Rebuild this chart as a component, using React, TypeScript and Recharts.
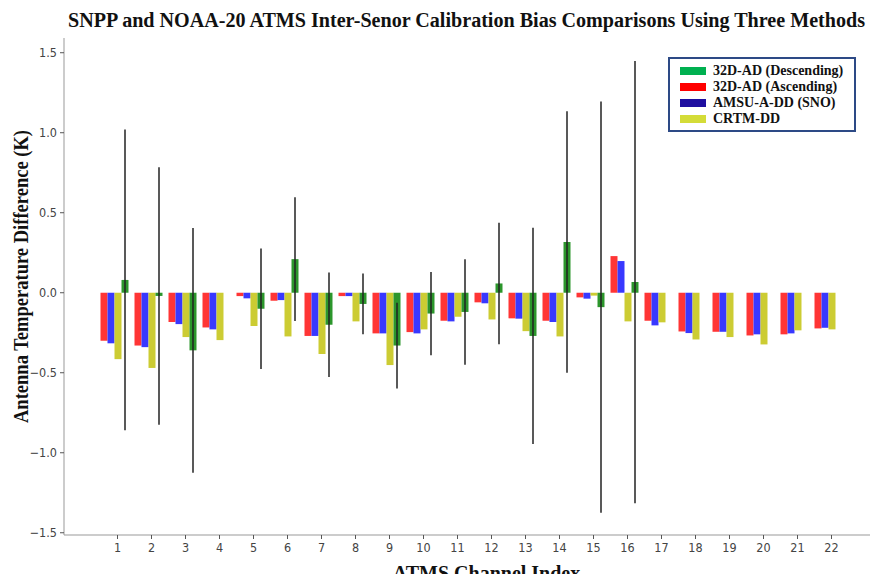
import React from 'react';
import { BarChart, Bar, XAxis, YAxis, ErrorBar, Legend, Customized } from 'recharts';

const channels = [1, 2, 3, 4, 5, 6, 7, 8, 9, 10, 11, 12, 13, 14, 15, 16, 17, 18, 19, 20, 21, 22];
const ascending = [-0.30, -0.33, -0.183, -0.217, -0.021, -0.05, -0.27, -0.021, -0.254, -0.246, -0.175, -0.06, -0.16, -0.175, -0.029, 0.229, -0.175, -0.242, -0.244, -0.267, -0.26, -0.223];
const amsuSno = [-0.316, -0.34, -0.196, -0.229, -0.035, -0.046, -0.27, -0.021, -0.254, -0.254, -0.179, -0.066, -0.162, -0.183, -0.037, 0.198, -0.204, -0.252, -0.244, -0.26, -0.254, -0.219];
const crtmDD = [-0.415, -0.47, -0.277, -0.296, -0.208, -0.273, -0.383, -0.179, -0.452, -0.229, -0.15, -0.167, -0.24, -0.273, -0.018, -0.179, -0.185, -0.292, -0.277, -0.323, -0.235, -0.229];
const descending = [0.08, -0.02, -0.36, null, -0.10, 0.21, -0.20, -0.07, -0.33, -0.13, -0.12, 0.058, -0.27, 0.317, -0.09, 0.067, null, null, null, null, null, null];
const descendingErr = [0.94, 0.805, 0.765, null, 0.377, 0.387, 0.327, 0.19, 0.268, 0.26, 0.33, 0.38, 0.676, 0.817, 1.285, 1.382, null, null, null, null, null, null];
const yTicks = [-1.5, -1.0, -0.5, 0.0, 0.5, 1.0, 1.5];

const legendItems = [
  { label: '32D-AD (Descending)', color: '#00b050' },
  { label: '32D-AD (Ascending)', color: '#ff0000' },
  { label: 'AMSU-A-DD (SNO)', color: '#1f0fa0' },
  { label: 'CRTM-DD', color: '#d4dc38' },
];

const data = channels.map((ch, i) => ({
  ch,
  asc: ascending[i],
  sno: amsuSno[i],
  crtm: crtmDD[i],
  desc: descending[i],
  descErr: descendingErr[i],
}));

const TICK_FONT = '"DejaVu Sans Condensed", "DejaVu Sans", sans-serif';
const SERIF = '"Liberation Serif", "Times New Roman", serif';
const BAND = 34;
const SHIFT = BAND * 0.1;

const fmt = (v: number) => (v < 0 ? '\u2212' + Math.abs(v).toFixed(1) : v.toFixed(1));

const XTick = (props: any) => {
  const { x, y, payload } = props;
  const cx = x + SHIFT;
  return (
    <g>
      <line x1={cx} x2={cx} y1={y} y2={y + 4} stroke="#555" strokeWidth={1} />
      <text x={cx} y={y + 17} textAnchor="middle" fontSize={12.5} fill="#444" fontFamily={TICK_FONT}>
        {payload.value}
      </text>
    </g>
  );
};

const LegendBox = () => (
  <div
    style={{
      width: 188,
      height: 75,
      boxSizing: 'border-box',
      border: '2px solid #2d4a86',
      background: '#fff',
      paddingTop: 4,
      fontFamily: SERIF,
      fontWeight: 'bold',
      fontSize: 14,
      color: '#111',
    }}
  >
    {legendItems.map((it) => (
      <div key={it.label} style={{ display: 'flex', alignItems: 'center', height: 16 }}>
        <div style={{ marginLeft: 10, width: 26, height: 8, background: it.color }} />
        <span style={{ marginLeft: 7, lineHeight: '16px' }}>{it.label}</span>
      </div>
    ))}
  </div>
);

const Texts = () => (
  <g>
    <text
      x={466.5}
      y={27}
      textAnchor="middle"
      fontFamily={SERIF}
      fontWeight="bold"
      fontSize={20}
      fill="#111"
      textLength={797}
      lengthAdjust="spacingAndGlyphs"
    >
      SNPP and NOAA-20 ATMS Inter-Senor Calibration Bias Comparisons Using Three Methods
    </text>
    <text
      transform="translate(28,276.5) rotate(-90)"
      textAnchor="middle"
      fontFamily={SERIF}
      fontWeight="bold"
      fontSize={20}
      fill="#111"
      textLength={293}
      lengthAdjust="spacingAndGlyphs"
    >
      Antenna Temperature Difference (K)
    </text>
    <text x={486.5} y={580} textAnchor="middle" fontFamily={SERIF} fontWeight="bold" fontSize={20} fill="#111">
      ATMS Channel Index
    </text>
  </g>
);

export default function App() {
  return (
    <div style={{ position: 'absolute', left: 0, top: 0, width: 877, height: 574, background: '#fff', overflow: 'hidden' }}>
      <BarChart
        width={877}
        height={574}
        data={data}
        margin={{ top: 38, right: 7, left: 0, bottom: 9 }}
        barGap={0}
        barCategoryGap="10%"
      >
        <XAxis
          dataKey="ch"
          type="category"
          interval={0}
          height={30}
          padding={{ left: 33.1, right: 24.9 }}
          tickLine={false}
          tickSize={0}
          tickMargin={0}
          tick={<XTick />}
          axisLine={{ stroke: '#999' }}
        />
        <XAxis
          xAxisId="top"
          orientation="top"
          dataKey="ch"
          height={0}
          padding={{ left: 33.1, right: 24.9 }}
          tick={false}
          tickLine={false}
          axisLine={{ stroke: '#aaa' }}
        />
        <YAxis
          type="number"
          domain={[-1.514, 1.592]}
          allowDataOverflow
          ticks={yTicks}
          tickFormatter={fmt}
          width={64}
          tickSize={4}
          tickMargin={3}
          tick={{ fontSize: 12.5, fill: '#444', fontFamily: TICK_FONT }}
          tickLine={{ stroke: '#555' }}
          axisLine={{ stroke: '#999' }}
        />
        <YAxis
          yAxisId="right"
          orientation="right"
          type="number"
          domain={[-1.514, 1.592]}
          allowDataOverflow
          width={0}
          tick={false}
          tickLine={false}
          axisLine={{ stroke: '#aaa' }}
        />
        <Legend
          layout="vertical"
          align="center"
          verticalAlign="middle"
          content={<LegendBox />}
          wrapperStyle={{ position: 'absolute', left: 668, top: 57, width: 188, height: 75 }}
        />
        <Bar dataKey="asc" fill="#ff3535" isAnimationActive={false} />
        <Bar dataKey="sno" fill="#3838ff" isAnimationActive={false} />
        <Bar dataKey="crtm" fill="#cccc33" isAnimationActive={false} />
        <Bar dataKey="desc" fill="#2c962c" isAnimationActive={false}>
          <ErrorBar dataKey="descErr" width={0} stroke="#222" strokeWidth={1.5} direction="y" isAnimationActive={false} />
        </Bar>
        <Customized component={Texts} />
      </BarChart>
    </div>
  );
}
